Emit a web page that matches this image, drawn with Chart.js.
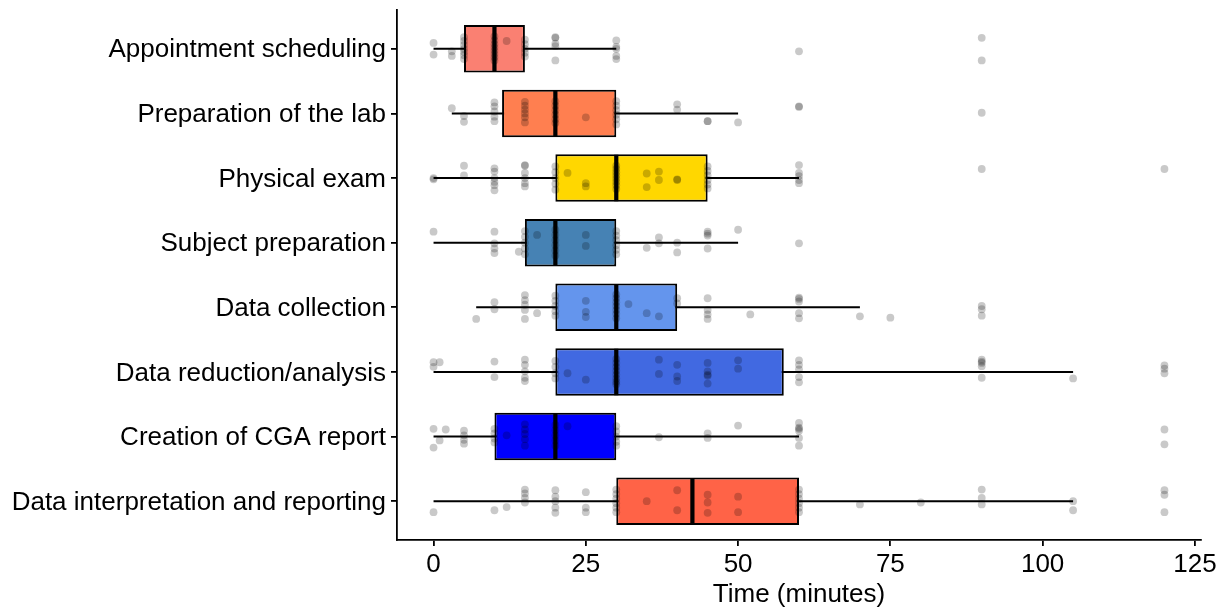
<!DOCTYPE html>
<html><head><meta charset="utf-8">
<script src="https://cdn.jsdelivr.net/npm/chart.js@4.4.1/dist/chart.umd.min.js"></script>
<style>html,body{margin:0;padding:0;background:#fff;}#wrap{width:1227px;height:608px;}</style>
</head><body><div id="wrap"><canvas id="c" width="1227" height="608"></canvas></div>
<script>
// ---------- data ----------
const categories = [
  'Appointment scheduling',
  'Preparation of the lab',
  'Physical exam',
  'Subject preparation',
  'Data collection',
  'Data reduction/analysis',
  'Creation of CGA report',
  'Data interpretation and reporting'
];
const whiskerLow  = [0, 3, 0, 0, 7, 0, 0, 0];
const q1          = [5, 11.25, 20, 15, 20, 20, 10, 30];
const median      = [10, 20, 30, 20, 30, 30, 20, 42.5];
const q3          = [15, 30, 45, 30, 40, 57.5, 30, 60];
const whiskerHigh = [30, 50, 60, 50, 70, 105, 60, 105];
const boxColors = ['#FA8072', '#FF7F50', '#FFD700', '#4682B4', '#6495ED', '#4169E1', '#0000FF', '#FF6347'];
const xTicks = [0, 25, 50, 75, 100, 125];

// observations: [minutes, vertical jitter in category units]
const ptsAppointment = [[0,-0.09],[0,0.09],[3,0.04],[3,0.11],
  [5,-0.18],[5,-0.12],[5,-0.06],[5,0],[5,0.05],[5,0.1],[5,0.16],
  [10,-0.19],[10,-0.13],[10,-0.07],[10,-0.02],[10,0.03],[10,0.08],[10,0.13],[10,0.18],
  [12,-0.12],[15,-0.14],[15,-0.07],[15,0],[15,0.06],[15,0.12],
  [20,-0.18],[20,-0.17],[20,-0.08],[20,-0.04],[20,0.18],
  [30,-0.13],[30,-0.03],[30,0],[30,0.11],[30,0.16],[60,0.04],[90,-0.17],[90,0.18]];
const ptsLab = [[3,-0.08],[5,0.04],[5,0.13],
  [10,-0.17],[10,-0.11],[10,-0.03],[10,0.05],[10,0.12],
  [15,-0.18],[15,-0.12],[15,-0.06],[15,0],[15,0.06],[15,0.14],
  [20,-0.19],[20,-0.12],[20,-0.05],[20,0.02],[20,0.09],[20,0.15],[25,0.06],
  [30,-0.19],[30,-0.12],[30,-0.05],[30,0.02],[30,0.09],[30,0.17],
  [40,-0.14],[40,-0.06],[45,0.12],[45,0.12],[50,0.14],[60,-0.11],[60,-0.1],[90,-0.01]];
const ptsPhysical = [[0,0],[0,0.02],[5,-0.19],[5,-0.04],
  [10,-0.15],[10,-0.1],[10,0],[10,0.06],[10,0.11],[10,0.19],
  [15,-0.2],[15,-0.19],[15,-0.08],[15,0],[15,0.08],[15,0.13],
  [20,-0.18],[20,-0.09],[20,0],[20,0.09],[20,0.18],[22,-0.08],[25,0.08],[25,0.13],
  [30,-0.19],[30,-0.14],[30,-0.09],[30,-0.04],[30,0.01],[30,0.06],[30,0.11],[30,0.17],
  [35,-0.07],[35,0.14],[37,-0.1],[37,0.03],[40,0.02],[40,0.03],
  [45,-0.18],[45,-0.11],[45,-0.04],[45,0.03],[45,0.1],[45,0.16],
  [60,-0.2],[60,-0.08],[60,-0.03],[60,0.03],[60,0.08],[90,-0.14],[120,-0.14]];
const ptsSubject = [[0,-0.17],[10,-0.17],[10,0.01],[10,0.09],[10,0.16],[14,0.14],
  [15,-0.18],[15,-0.09],[15,0],[15,0.09],[15,0.18],[17,-0.12],
  [20,-0.2],[20,-0.12],[20,-0.04],[20,0.04],[20,0.12],[20,0.2],[25,-0.12],[25,0.05],
  [30,-0.18],[30,-0.11],[30,-0.04],[30,0.04],[30,0.11],[30,0.18],
  [35,0.08],[37,-0.08],[37,0.01],[40,0],[40,0.15],
  [45,-0.17],[45,-0.14],[45,-0.11],[45,0.09],[50,-0.2],[60,0.01]];
const ptsCollection = [[7,0.18],[10,-0.08],[10,0.03],
  [15,-0.19],[15,-0.11],[15,-0.04],[15,0.04],[15,0.18],[17,0.09],
  [20,-0.18],[20,-0.1],[20,-0.02],[20,0.06],[20,0.13],[25,-0.1],[25,0.07],[25,0.15],
  [30,-0.2],[30,-0.14],[30,-0.08],[30,-0.02],[30,0.04],[30,0.1],[30,0.17],
  [32,-0.05],[35,0.09],[37,0.14],[40,-0.14],[40,-0.06],
  [45,-0.14],[45,0.04],[45,0.11],[45,0.18],[52,0.11],
  [60,-0.15],[60,-0.13],[60,-0.09],[60,0.09],[60,0.17],
  [70,0.14],[75,0.16],[90,-0.02],[90,0.03],[90,0.13]];
const ptsReduction = [[0,-0.15],[0,-0.08],[1,-0.15],[10,-0.16],[10,0.08],
  [15,-0.19],[15,-0.11],[15,-0.01],[15,0.09],[15,0.14],
  [20,-0.17],[20,-0.08],[20,0.02],[20,0.1],[22,0.02],[25,0.12],
  [30,-0.2],[30,-0.14],[30,-0.08],[30,-0.02],[30,0.04],[30,0.1],[30,0.15],[30,0.19],
  [37,-0.19],[37,0.03],[40,-0.11],[40,0.07],[40,0.14],
  [45,-0.14],[45,-0.01],[45,0.04],[45,0.06],[45,0.18],[50,-0.18],[50,-0.05],
  [60,-0.18],[60,-0.11],[60,-0.04],[60,0.08],[60,0.16],
  [90,-0.19],[90,-0.16],[90,-0.14],[90,-0.09],[90,0.09],
  [105,0.1],[120,-0.1],[120,-0.05],[120,0.02]];
const ptsReport = [[0,-0.12],[0,0.17],[1,0.06],[2,-0.11],
  [5,-0.09],[5,-0.02],[5,0.05],[5,0.11],[10,-0.12],[10,-0.05],[10,0.03],[10,0.09],[12,-0.02],
  [15,-0.19],[15,-0.11],[15,-0.04],[15,0.04],[15,0.14],
  [20,-0.18],[20,-0.1],[20,-0.02],[20,0.06],[20,0.14],[22,-0.16],
  [30,-0.16],[30,-0.08],[30,0],[30,0.08],[30,0.14],
  [37,0.01],[45,-0.05],[45,0.02],[50,-0.17],
  [60,-0.21],[60,-0.14],[60,-0.12],[60,-0.09],[60,0.02],[60,0.14],[120,-0.11],[120,0.12]];
const ptsInterpretation = [[0,0.17],[10,0.14],[12,0.09],
  [15,-0.18],[15,-0.12],[15,-0.05],[15,0.02],
  [20,-0.17],[20,-0.07],[20,0],[20,0.1],[20,0.18],[25,-0.14],[25,0.1],[25,0.17],
  [30,-0.18],[30,-0.11],[30,-0.04],[30,0.03],[30,0.1],[30,0.17],
  [35,0],[40,-0.17],[40,0.14],[45,-0.1],[45,0.02],[45,0.18],[50,-0.07],[50,0.17],
  [60,-0.18],[60,-0.11],[60,-0.04],[60,0.03],[60,0.1],[60,0.17],
  [70,0.05],[80,0.02],[90,-0.18],[90,-0.05],[90,0.05],[105,0],[105,0.14],
  [120,-0.17],[120,-0.1],[120,0.17]];
const pointSets = [ptsAppointment, ptsLab, ptsPhysical, ptsSubject, ptsCollection, ptsReduction, ptsReport, ptsInterpretation];

// ---------- chart ----------
Chart.defaults.font.family = '"Liberation Sans", Arial, Helvetica, sans-serif';
Chart.defaults.font.size = 26;
Chart.defaults.color = '#000';

const BOX_HALF = 0.36;
const datasets = [];
datasets.push({
  type: 'scatter',
  data: pointSets.flatMap((pts, i) => pts.map(([v, j]) => ({x: v, y: i + 1 + j}))),
  backgroundColor: 'rgba(0,0,0,0.21)', borderWidth: 0, pointRadius: 3.9, order: 0
});
categories.forEach((c, i) => {
  datasets.push({
    type: 'line',
    data: [{x: median[i], y: i + 1 - BOX_HALF}, {x: median[i], y: i + 1 + BOX_HALF}],
    borderColor: '#000', borderWidth: 4.2, pointRadius: 0, borderCapStyle: 'butt', order: 1
  });
});
datasets.push({
  type: 'bar', indexAxis: 'y',
  data: categories.map((c, i) => ({y: i + 1, x: [q1[i], q3[i]]})),
  backgroundColor: boxColors, borderColor: '#000', borderWidth: 2, borderSkipped: false,
  barPercentage: 0.92, categoryPercentage: 0.8, order: 2
});
categories.forEach((c, i) => {
  datasets.push({
    type: 'line',
    data: [{x: whiskerLow[i], y: i + 1}, {x: whiskerHigh[i], y: i + 1}],
    borderColor: '#000', borderWidth: 2, pointRadius: 0, order: 3
  });
});

const axisGrid = {display: true, drawOnChartArea: false, drawTicks: true, tickLength: 6, color: '#000', lineWidth: 1.8, offset: false};
const axisBorder = {display: true, color: '#000', width: 1.8};

new Chart(document.getElementById('c'), {
  type: 'bar',
  data: {datasets},
  options: {
    responsive: false, animation: false, events: [],
    layout: {padding: {left: 0, top: 10, right: 26, bottom: 0}},
    plugins: {legend: {display: false}, tooltip: {enabled: false}},
    scales: {
      x: {
        type: 'linear', min: -6, max: 126, offset: false,
        afterBuildTicks: s => { s.ticks = xTicks.map(v => ({value: v})); },
        afterFit: s => { s.height = 68; s.paddingLeft = 0; s.paddingRight = 0; },
        grid: axisGrid, border: axisBorder,
        ticks: {padding: 6, maxRotation: 0, autoSkip: false, font: {size: 26, lineHeight: 1}},
        title: {display: true, text: 'Time (minutes)', font: {size: 26, lineHeight: 1}, padding: {top: 0, bottom: 0}}
      },
      y: {
        type: 'linear', min: 0.4, max: 8.6, reverse: true, offset: false,
        afterBuildTicks: s => { s.ticks = categories.map((c, i) => ({value: i + 1})); },
        afterFit: s => { s.width = 397; s.paddingTop = 0; s.paddingBottom = 0; },
        grid: axisGrid, border: axisBorder,
        ticks: {padding: 5, autoSkip: false, labelOffset: 1.5, font: {size: 26, lineHeight: 1}, callback: v => categories[Math.round(v) - 1]}
      }
    }
  }
});
</script></body></html>
